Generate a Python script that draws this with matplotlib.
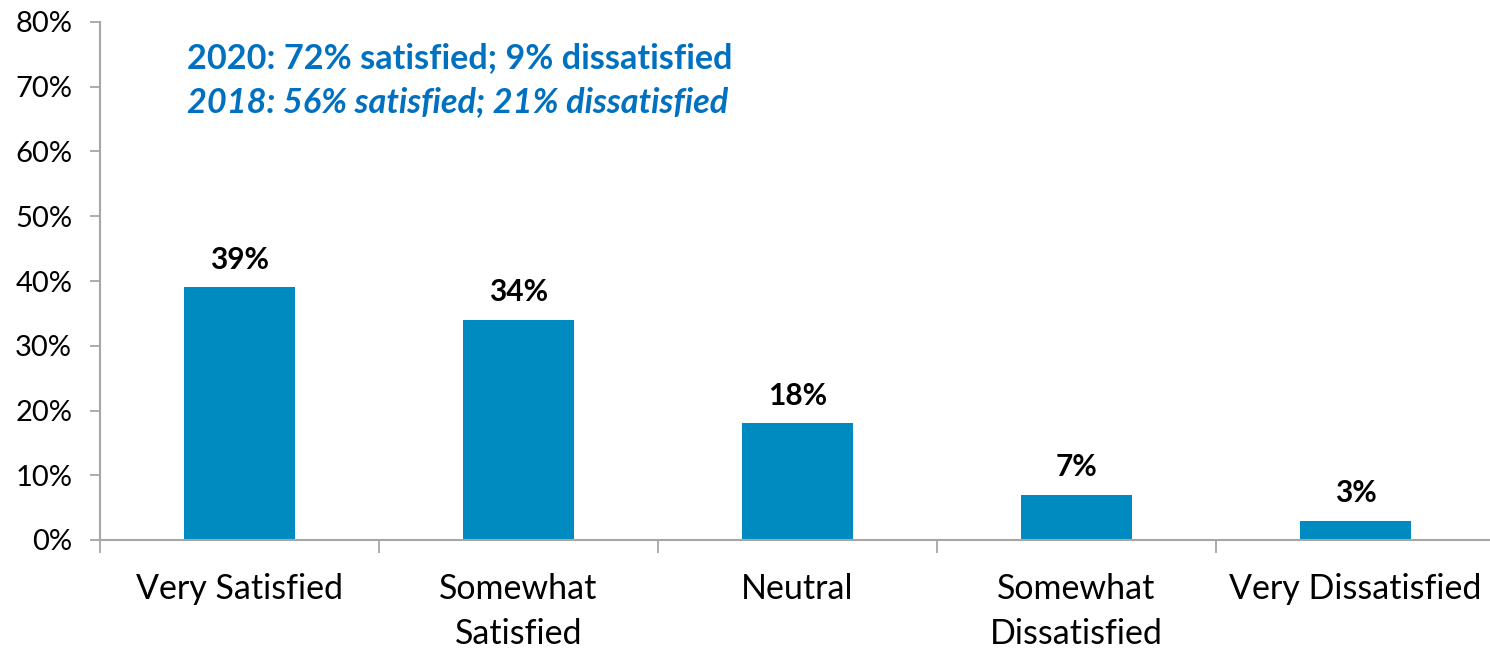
import matplotlib
matplotlib.use("Agg")
import matplotlib.pyplot as plt
from matplotlib.ticker import FixedLocator

categories = ["Very Satisfied", "Somewhat\nSatisfied", "Neutral",
              "Somewhat\nDissatisfied", "Very Dissatisfied"]
values = [39, 34, 18, 7, 3]
bar_labels = ["39%", "34%", "18%", "7%", "3%"]
y_ticks = [0, 10, 20, 30, 40, 50, 60, 70, 80]
y_tick_labels = [f"{v}%" for v in y_ticks]
summary_2020 = "2020: 72% satisfied; 9% dissatisfied"
summary_2018 = "2018: 56% satisfied; 21% dissatisfied"

BAR = "#008BC0"
AXIS = "#A6A6A6"
NOTE = "#0070C0"
FONT = ["Lato", "DejaVu Sans"]

plt.rcParams["font.family"] = FONT

W, H = 1490, 648
fig = plt.figure(figsize=(W / 100, H / 100), dpi=100)
ax = fig.add_axes([100 / W, (H - 540) / H, 1395 / W, 518 / H])

x = list(range(len(categories)))
ax.bar(x, values, width=0.4, color=BAR, zorder=2)

for xi, v, lab in zip(x, values, bar_labels):
    ax.annotate(lab, (xi, v), xytext=(0, 10), textcoords="offset points",
                ha="center", va="bottom", fontsize=21.5, fontweight="bold",
                color="black")

ax.set_xlim(-0.5, len(categories) - 0.5)
ax.set_ylim(0, 80)

ax.set_yticks(y_ticks)
ax.set_yticklabels(y_tick_labels, fontsize=21)
ax.tick_params(axis="y", length=7, width=1.3, color=AXIS, pad=13)

ax.set_xticks(x)
ax.set_xticklabels(categories, fontsize=24.5, linespacing=1.5)
ax.tick_params(axis="x", which="major", length=0, pad=24)
ax.xaxis.set_minor_locator(FixedLocator([i - 0.5 for i in range(len(categories) + 1)]))
ax.tick_params(axis="x", which="minor", length=9, width=1.3, color=AXIS, direction="out")

for side in ("top", "right"):
    ax.spines[side].set_visible(False)
for side in ("left", "bottom"):
    ax.spines[side].set_color(AXIS)
    ax.spines[side].set_linewidth(1.5)

fig.text(187 / W, 1 - 58 / H, summary_2020, fontsize=24.7, fontweight="bold",
         color=NOTE, ha="left", va="center")
fig.text(187 / W, 1 - 102 / H, summary_2018, fontsize=24.7, fontweight="bold",
         fontstyle="italic", color=NOTE, ha="left", va="center")

fig.savefig("out.png", dpi=100)
